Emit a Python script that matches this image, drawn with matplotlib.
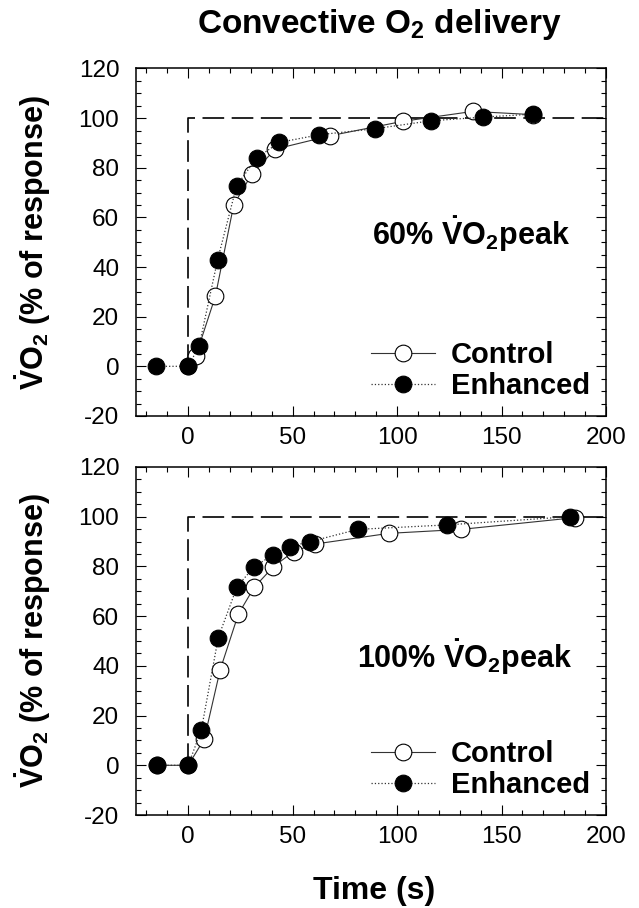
import matplotlib
matplotlib.use("Agg")
import matplotlib.pyplot as plt
from matplotlib.ticker import MultipleLocator

# fonts: Arial-like bold, custom mathtext so the dotted V matches the text
plt.rcParams['font.family'] = ['Liberation Sans', 'DejaVu Sans']
plt.rcParams['mathtext.fontset'] = 'custom'
plt.rcParams['mathtext.rm'] = 'Liberation Sans'
plt.rcParams['mathtext.bf'] = 'Liberation Sans:bold'
plt.rcParams['mathtext.it'] = 'Liberation Sans:italic'
plt.rcParams['axes.unicode_minus'] = False

# data (time in s, VO2 in % of response)
# 60% VO2peak
ctrl60_t = [0, 3.7, 13, 21.8, 30.5, 41.7, 68, 102.7, 136.3, 165]
ctrl60_v = [0, 4.3, 28.2, 65.1, 77.5, 87.5, 92.9, 98.7, 102.7, 101.4]
enh60_t = [-15.5, 0, 5.2, 14.1, 23.2, 32.7, 43.6, 62.8, 89.2, 116, 141.2, 165.2]
enh60_v = [0, 0, 8.1, 43, 72.8, 83.9, 90.2, 93.3, 95.7, 98.9, 100.4, 101.6]

# 100% VO2peak
ctrl100_t = [-15, 0, 7.7, 15.3, 24, 31.6, 40.8, 50.5, 60.7, 96, 130.7, 185]
ctrl100_v = [0, 0, 10.6, 38.4, 60.8, 71.6, 79.9, 86, 89, 93.3, 94.9, 99.6]
enh100_t = [-14.7, 0, 6.3, 14.4, 23.4, 31.6, 40.5, 48.7, 58.5, 81.2, 123.9, 182.7]
enh100_v = [0, 0, 14.3, 51.4, 71.9, 79.9, 84.6, 88, 90, 94.9, 96.7, 100]

# square-wave input
step_t = [0, 0, 200]
step_v = [0, 100, 100]

panels = [
    (ctrl60_t, ctrl60_v, enh60_t, enh60_v, r"60% $\mathbf{\dot{V}O_2}$peak", 87.8, 49),
    (ctrl100_t, ctrl100_v, enh100_t, enh100_v, r"100% $\mathbf{\dot{V}O_2}$peak", 81, 39.1),
]

fig = plt.figure(figsize=(6.39, 9.08), dpi=100)
ax_top = fig.add_axes([0.2128, 0.5419, 0.7355, 0.3827])
ax_bot = fig.add_axes([0.2128, 0.1024, 0.7355, 0.3833])

for ax, (ct, cv, et, ev, label, lx, ly) in zip([ax_top, ax_bot], panels):
    ax.plot(step_t, step_v, color='black', lw=1.2, linestyle=(0, (13, 4.5)), zorder=1)
    ax.plot(ct, cv, '-', color='#333333', lw=0.8, marker='o', ms=12,
            mfc='white', mec='black', mew=0.8, label='Control', zorder=2)
    ax.plot(et, ev, ':', color='#333333', lw=0.9, marker='o', ms=12,
            mfc='black', mec='black', mew=0.8, label='Enhanced', zorder=3)

    ax.set_xlim(-25, 200)
    ax.set_ylim(-20, 120)
    ax.xaxis.set_major_locator(MultipleLocator(50))
    ax.xaxis.set_minor_locator(MultipleLocator(10))
    ax.yaxis.set_major_locator(MultipleLocator(20))
    ax.yaxis.set_minor_locator(MultipleLocator(5))
    ax.set_xticks([0, 50, 100, 150, 200])
    ax.tick_params(which='both', direction='in', top=True, right=True, width=0.8)
    ax.tick_params(which='major', length=7, labelsize=17.5)
    ax.tick_params(axis='x', which='major', pad=8)
    ax.tick_params(axis='y', which='major', pad=12)
    ax.tick_params(which='minor', length=3.5)
    for s in ax.spines.values():
        s.set_linewidth(1.1)

    ax.text(lx, ly, label, fontsize=22, fontweight='bold', ha='left', va='baseline')

    ax.set_ylabel(r"$\mathbf{\dot{V}O_2}$ (% of response)", fontsize=22, fontweight='bold')
    ax.yaxis.set_label_coords(-0.177, 0.5)

    ax.legend(loc='lower left', bbox_to_anchor=(0.5, 0.045), frameon=False,
              prop={'weight': 'bold', 'size': 21},
              handlelength=2.2, handletextpad=0.55, labelspacing=0.1,
              borderpad=0, borderaxespad=0)

fig.text(0.593, 0.9637, r"Convective O$_\mathbf{2}$ delivery", fontsize=24,
         fontweight='bold', ha='center', va='baseline')
fig.text(0.585, 0.0095, "Time (s)", fontsize=23, fontweight='bold',
         ha='center', va='baseline')

fig.savefig('out.png', dpi=100)
